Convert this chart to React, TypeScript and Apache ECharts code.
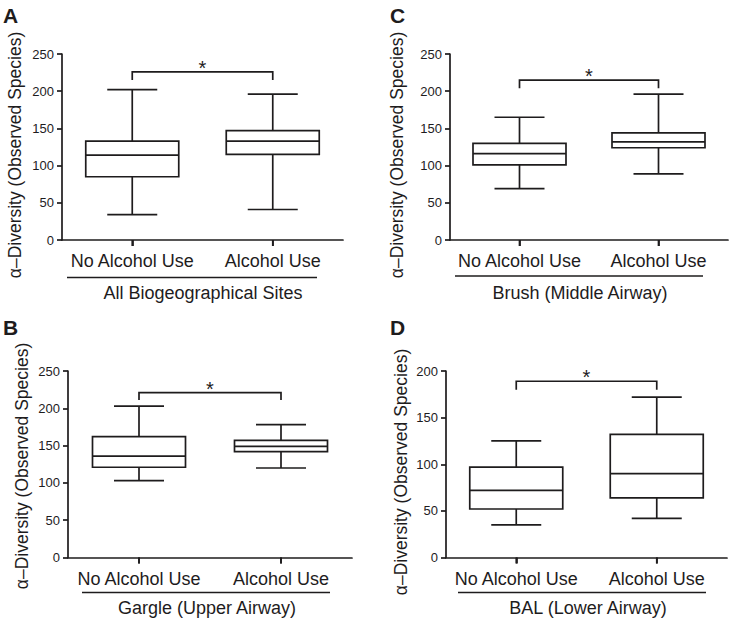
import React, { useEffect, useRef } from "react";
import * as echarts from "echarts";

// ---------- data ----------
const categories = ["No Alcohol Use", "Alcohol Use"];
// each: [min, Q1, median, Q3, max]
const allSitesNoAlcohol = [34, 85, 114, 133, 202];
const allSitesAlcohol = [41, 115, 133, 147, 196];
const brushNoAlcohol = [69, 101, 116, 130, 165];
const brushAlcohol = [89, 124, 132, 144, 196];
const gargleNoAlcohol = [103, 121, 136, 162, 203];
const gargleAlcohol = [120, 142, 149, 157, 178];
const balNoAlcohol = [35, 52, 72, 97, 125];
const balAlcohol = [42, 64, 90, 132, 172];
// significance bracket: [top, leg end]
const allSitesBracket = [226, 215];
const brushBracket = [215, 204];
const gargleBracket = [221, 211];
const balBracket = [189, 180];
const yMaxes = [250, 250, 250, 200];
const yInterval = 50;
const panelLetters = ["A", "C", "B", "D"];
const subtitles = [
  "All Biogeographical Sites",
  "Brush (Middle Airway)",
  "Gargle (Upper Airway)",
  "BAL (Lower Airway)",
];
const yAxisTitle = "α–Diversity (Observed Species)";
const starLabel = "*";

// ---------- layout / style ----------
const FONT = "'Liberation Sans', Arial, Helvetica, sans-serif";
const INK = "#1e1c1d";
const LW = 1.7;
const grids = [
  { left: 62, top: 54, width: 281, height: 186 },
  { left: 450, top: 54, width: 278, height: 186 },
  { left: 68, top: 371, width: 284, height: 186.5 },
  { left: 446, top: 371, width: 281, height: 186.5 },
];
const letterPos = [
  [3, 5],
  [390, 5],
  [3, 317],
  [390, 317],
];
const titlePos = [
  [15, 155],
  [397, 155],
  [22, 466],
  [401, 472],
];
const underlines = [
  [67, 317, 277.5],
  [455, 703, 276],
  [82, 330, 592.5],
  [458, 706, 592.5],
];
const subtitlePos = [
  [203, 293],
  [580, 293],
  [207, 608],
  [588, 608],
];

const boxData = [
  [allSitesNoAlcohol, allSitesAlcohol],
  [brushNoAlcohol, brushAlcohol],
  [gargleNoAlcohol, gargleAlcohol],
  [balNoAlcohol, balAlcohol],
];
const bracketData = [allSitesBracket, brushBracket, gargleBracket, balBracket];

function renderBox(params: any, api: any) {
  const x = api.value(0);
  const v = [1, 2, 3, 4, 5].map((i) => api.value(i));
  const pMin = api.coord([x, v[0]]);
  const pQ1 = api.coord([x, v[1]]);
  const pMed = api.coord([x, v[2]]);
  const pQ3 = api.coord([x, v[3]]);
  const pMax = api.coord([x, v[4]]);
  const pZero = api.coord([x, 0]);
  const cx = pMin[0];
  const hw = 46.5;
  const cw = 25;
  const st = { stroke: INK, lineWidth: LW, fill: null };
  const ln = (x1: number, y1: number, x2: number, y2: number) => ({
    type: "line",
    shape: { x1, y1, x2, y2 },
    style: st,
  });
  return {
    type: "group",
    children: [
      {
        type: "rect",
        shape: { x: cx - hw, y: pQ3[1], width: hw * 2, height: pQ1[1] - pQ3[1] },
        style: { stroke: INK, lineWidth: LW, fill: "none" },
      },
      ln(cx - hw, pMed[1], cx + hw, pMed[1]),
      ln(cx, pQ3[1], cx, pMax[1]),
      ln(cx, pQ1[1], cx, pMin[1]),
      ln(cx - cw, pMax[1], cx + cw, pMax[1]),
      ln(cx - cw, pMin[1], cx + cw, pMin[1]),
      // category tick below the axis line
      ln(cx, pZero[1], cx, pZero[1] + 6),
    ],
  };
}

function renderBracket(params: any, api: any) {
  const top = api.value(2);
  const leg = api.value(3);
  const a = api.coord([api.value(0), leg]);
  const b = api.coord([api.value(0), top]);
  const c = api.coord([api.value(1), top]);
  const d = api.coord([api.value(1), leg]);
  return {
    type: "group",
    children: [
      {
        type: "polyline",
        shape: { points: [a, b, c, d] },
        style: { stroke: INK, lineWidth: LW, fill: null },
      },
      {
        type: "text",
        x: (b[0] + c[0]) / 2,
        y: b[1] - 4,
        style: {
          text: starLabel,
          fontSize: 20,
          fontFamily: FONT,
          fill: INK,
          align: "center",
          verticalAlign: "middle",
        },
      },
    ],
  };
}

export default function App() {
  const ref = useRef<HTMLDivElement>(null);
  useEffect(() => {
    document.body.style.margin = "0";
    const chart = echarts.init(ref.current!, null, { renderer: "svg" });
    const xAxis = grids.map((_, i) => ({
      type: "category",
      gridIndex: i,
      data: categories,
      boundaryGap: true,
      axisLine: { show: true, lineStyle: { color: INK, width: LW } },
      axisTick: {
        show: true,
        interval: 0,
        alignWithLabel: true,
        length: 6,
        lineStyle: { color: INK, width: LW },
      },
      axisLabel: {
        show: true,
        interval: 0,
        hideOverlap: false,
        fontSize: 18,
        color: INK,
        margin: 12,
        fontFamily: FONT,
      },
      splitLine: { show: false },
    }));
    const yAxis = grids.map((_, i) => ({
      type: "value",
      gridIndex: i,
      min: 0,
      max: yMaxes[i],
      interval: yInterval,
      axisLine: { show: true, lineStyle: { color: INK, width: LW } },
      axisTick: { show: true, length: 5, lineStyle: { color: INK, width: LW } },
      axisLabel: { fontSize: 13, color: INK, margin: 8, fontFamily: FONT },
      splitLine: { show: false },
    }));
    const series: any[] = [];
    boxData.forEach((pair, i) => {
      series.push({
        type: "custom",
        xAxisIndex: i,
        yAxisIndex: i,
        renderItem: renderBox,
        clip: false,
        encode: { x: 0, y: [1, 2, 3, 4, 5] },
        data: pair.map((vals, k) => [k, ...vals]),
      });
      series.push({
        type: "custom",
        xAxisIndex: i,
        yAxisIndex: i,
        renderItem: renderBracket,
        clip: false,
        encode: { x: [0, 1], y: [2, 3] },
        data: [[0, 1, bracketData[i][0], bracketData[i][1]]],
      });
    });
    const graphic: any[] = [];
    grids.forEach((_, i) => {
      graphic.push({
        type: "text",
        x: letterPos[i][0],
        y: letterPos[i][1],
        style: {
          text: panelLetters[i],
          fontSize: 21,
          fontWeight: "bold",
          fontFamily: FONT,
          fill: INK,
        },
      });
      graphic.push({
        type: "text",
        x: titlePos[i][0],
        y: titlePos[i][1],
        rotation: Math.PI / 2,
        style: {
          text: yAxisTitle,
          fontSize: 17.5,
          fontFamily: FONT,
          fill: INK,
          align: "center",
          verticalAlign: "middle",
        },
      });
      graphic.push({
        type: "line",
        shape: { x1: underlines[i][0], y1: underlines[i][2], x2: underlines[i][1], y2: underlines[i][2] },
        style: { stroke: INK, lineWidth: LW },
      });
      graphic.push({
        type: "text",
        x: subtitlePos[i][0],
        y: subtitlePos[i][1],
        style: {
          text: subtitles[i],
          fontSize: 18,
          fontFamily: FONT,
          fill: INK,
          align: "center",
          verticalAlign: "middle",
        },
      });
    });
    chart.setOption({
      animation: false,
      backgroundColor: "#fff",
      textStyle: { fontFamily: FONT },
      grid: grids.map((g) => ({ ...g, containLabel: false })),
      xAxis,
      yAxis,
      series,
      graphic,
    });
    return () => chart.dispose();
  }, []);
  return <div ref={ref} style={{ width: 731, height: 620 }} />;
}
